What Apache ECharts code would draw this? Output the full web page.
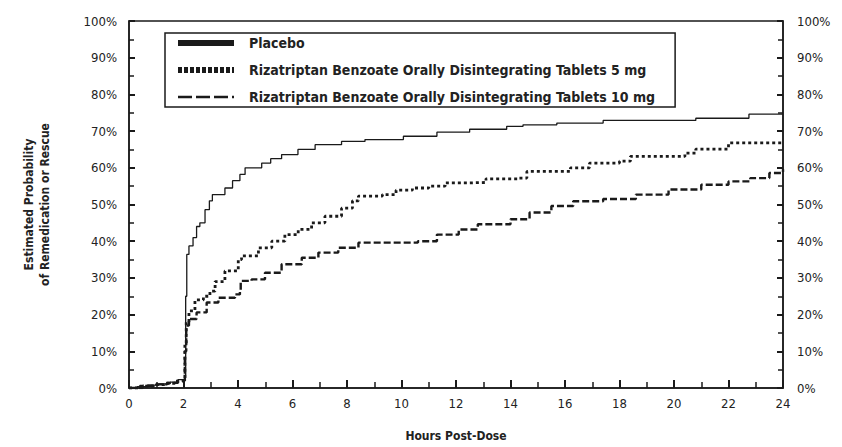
<!DOCTYPE html>
<html>
<head>
<meta charset="utf-8">
<script src="https://cdn.jsdelivr.net/npm/echarts@6/dist/echarts.min.js"></script>
<style>
  html, body { margin: 0; padding: 0; background: #fff; }
  #chart { width: 842px; height: 447px; }
</style>
</head>
<body>
<div id="chart"></div>
<script>
// series names (legend order)
var seriesNames = [
  'Placebo',
  'Rizatriptan Benzoate Orally Disintegrating Tablets 5 mg',
  'Rizatriptan Benzoate Orally Disintegrating Tablets 10 mg'
];

// top curve
var placeboHours = [0, 0.3, 0.7, 1.1, 1.5, 1.8, 2.05, 2.08, 2.12, 2.2, 2.35, 2.48, 2.6, 2.79, 2.95, 3.06, 3.52, 3.8, 4.07, 4.26, 4.87, 5.2, 5.6, 6.2, 6.83, 7.8, 8.66, 10.07, 11.3, 12.5, 13.86, 14.46, 15.7, 17.4, 20.8, 22.75, 24];
var placeboPct   = [0, 0.4, 0.8, 1.1, 1.6, 2.3, 2.8, 25, 36.4, 38.7, 41, 44, 45, 48.6, 51, 52.7, 54.5, 56.5, 58.2, 60, 61.3, 62.5, 63.6, 65, 66.3, 67.2, 67.7, 68.6, 69.7, 70.5, 71.3, 71.7, 72.2, 72.9, 73.5, 74.6, 74.6];

// middle curve
var mg5Hours = [0, 0.4, 0.9, 1.3, 1.7, 2.0, 2.05, 2.1, 2.2, 2.42, 2.73, 2.97, 3.16, 3.52, 4.01, 4.13, 4.75, 5.24, 5.72, 6.21, 6.7, 7.19, 7.8, 8.2, 8.42, 9.3, 9.8, 10.4, 11.0, 11.6, 12.5, 13.1, 14.3, 14.6, 15.6, 16.2, 16.9, 18.0, 18.4, 20.4, 20.8, 22.0, 24];
var mg5Pct   = [0, 0.5, 0.9, 1.3, 1.9, 2.4, 12, 18, 21, 24, 25, 26.4, 29, 31.9, 35, 36, 38.2, 40, 41.8, 43.2, 45, 46.8, 49, 51, 52.3, 52.7, 53.9, 54.5, 55, 55.9, 56, 57, 57.2, 59, 59, 60, 61.3, 61.8, 63.1, 64, 65.1, 66.8, 66.8];

// bottom curve
var mg10Hours = [0, 0.5, 1.0, 1.4, 1.8, 2.05, 2.1, 2.2, 2.48, 2.85, 3.28, 3.89, 4.07, 4.1, 4.5, 4.99, 5.6, 6.34, 6.95, 7.68, 8.42, 10.6, 11.3, 12.1, 12.8, 14.0, 14.7, 15.5, 16.3, 17.4, 18.6, 19.8, 21.0, 22.0, 22.8, 23.5, 24];
var mg10Pct   = [0, 0.6, 1.0, 1.4, 2.0, 10, 17, 18.8, 20.6, 23.3, 24.6, 25.5, 26.4, 29.2, 29.6, 31.4, 33.7, 35.5, 36.9, 38.2, 39.6, 40, 41.8, 43.2, 44.6, 46, 47.8, 49.6, 50.9, 51.5, 52.7, 54.1, 55.4, 56.3, 57.2, 58.6, 59.6];

var font = '"DejaVu Sans Condensed", "Liberation Sans Narrow", "DejaVu Sans", sans-serif';
var ink = '#1a1a1a';

function pairs(xs, ys) {
  return xs.map(function (x, i) { return [x, ys[i]]; });
}

var chart = echarts.init(document.getElementById('chart'), null, { renderer: 'svg' });

var yAxisBase = {
  type: 'value',
  min: 0,
  max: 100,
  interval: 10,
  axisLine: { show: true, lineStyle: { color: ink, width: 1.5 } },
  axisTick: { show: true, inside: true, length: 6, lineStyle: { color: ink, width: 2 } },
  minorTick: { show: true, splitNumber: 2, length: 5, lineStyle: { color: ink, width: 1.5 } },
  splitLine: { show: false },
  axisLabel: { formatter: '{value}%', fontFamily: font, fontSize: 13, color: '#222', margin: 12 }
};

var noSymbol = { opacity: 0 };

chart.setOption({
  animation: false,
  grid: { left: 129, right: 59, top: 21, bottom: 58, show: true, borderColor: ink, borderWidth: 1.5 },
  legend: {
    orient: 'vertical',
    left: 165,
    top: 33,
    itemWidth: 56,
    itemHeight: 14,
    itemGap: 13,
    borderColor: ink,
    borderWidth: 1.5,
    padding: [3, 20, 3, 10],
    textStyle: { fontFamily: font, fontWeight: 'bold', fontSize: 14, color: '#222', padding: [0, 0, 0, 10] },
    data: [
      { name: seriesNames[0], itemStyle: noSymbol, lineStyle: { width: 6, type: 'solid', color: ink } },
      { name: seriesNames[1], itemStyle: noSymbol, lineStyle: { width: 6, type: [4, 2], color: ink } },
      { name: seriesNames[2], itemStyle: noSymbol, lineStyle: { width: 2.5, type: [14, 4], color: ink } }
    ]
  },
  xAxis: {
    type: 'value',
    min: 0,
    max: 24,
    interval: 2,
    name: 'Hours Post-Dose',
    nameLocation: 'middle',
    nameGap: 42,
    nameTextStyle: { fontFamily: font, fontWeight: 'bold', fontSize: 12, color: '#222' },
    axisLine: { lineStyle: { color: ink, width: 1.5 } },
    axisTick: { inside: true, length: 8, lineStyle: { color: ink, width: 2 } },
    minorTick: { show: true, splitNumber: 2, length: 6, lineStyle: { color: ink, width: 1.5 } },
    splitLine: { show: false },
    axisLabel: { fontFamily: font, fontSize: 13, color: '#222', margin: 9 }
  },
  yAxis: [
    Object.assign({}, yAxisBase, {
      position: 'left',
      name: 'Estimated Probability\nof Remedication or Rescue',
      nameLocation: 'middle',
      nameGap: 76,
      nameTextStyle: { fontFamily: font, fontWeight: 'bold', fontSize: 12, color: '#222', lineHeight: 16 }
    }),
    Object.assign({}, yAxisBase, {
      position: 'right',
      axisLabel: { formatter: '{value}%', fontFamily: font, fontSize: 13, color: '#222', margin: 14 }
    })
  ],
  series: [
    {
      name: seriesNames[0],
      type: 'line',
      step: 'end',
      symbol: 'none',
      data: pairs(placeboHours, placeboPct),
      lineStyle: { color: ink, width: 1.3, type: 'solid' },
      itemStyle: { color: ink }
    },
    {
      name: seriesNames[1],
      type: 'line',
      step: 'end',
      symbol: 'none',
      data: pairs(mg5Hours, mg5Pct),
      lineStyle: { color: ink, width: 2.8, type: [3, 3] },
      itemStyle: { color: ink }
    },
    {
      name: seriesNames[2],
      type: 'line',
      step: 'end',
      symbol: 'none',
      data: pairs(mg10Hours, mg10Pct),
      lineStyle: { color: ink, width: 2.4, type: [7, 3] },
      itemStyle: { color: ink }
    }
  ]
});
</script>
</body>
</html>
